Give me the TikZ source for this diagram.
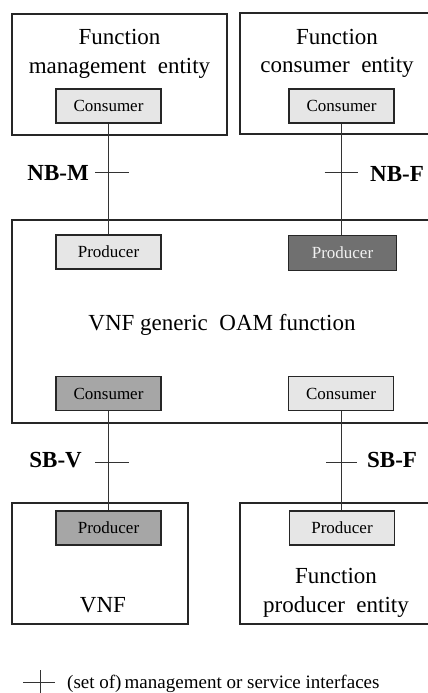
\documentclass[tikz,border=0pt]{standalone}
\usepackage{fontspec}
\setmainfont{Liberation Serif}
\definecolor{lightg}{HTML}{E6E6E6}
\definecolor{midg}{HTML}{A6A6A6}
\definecolor{darkg}{HTML}{707070}
\definecolor{paleTxt}{HTML}{F2F2F2}
\begin{document}
\begin{tikzpicture}[x=1pt,y=-1pt,
  bigbox/.style={draw=black!85, line width=1.2pt, rectangle, inner sep=0pt},
  smallbox/.style={draw=black!85, line width=1.5pt, rectangle, inner sep=0pt,
    minimum width=105pt, minimum height=34pt, font=\fontsize{17}{20}\selectfont},
  lightbox/.style={smallbox, fill=lightg},
  midbox/.style={smallbox, fill=midg},
  darkbox/.style={smallbox, fill=darkg, text=paleTxt},
  ent/.style={anchor=base, inner sep=0pt, font=\fontsize{23}{27}\selectfont},
  lbl/.style={inner sep=0pt, font=\fontsize{23}{27}\selectfont\bfseries},
  conn/.style={draw=black!80, line width=0.8pt},
  tick/.style={draw=black!80, line width=0.8pt}]
\useasboundingbox (0,0) rectangle (428,693);
\clip (0,0) rectangle (428,693);
\fill[white] (0,0) rectangle (428,693);

% outer boxes
\node[bigbox, minimum width=215pt, minimum height=121pt] (fme) at (119.5,74.5) {};
\node[bigbox, minimum width=200pt, minimum height=121pt] (fce) at (340,73.5) {};
\node[bigbox, minimum width=430pt, minimum height=203pt] (oam) at (227,321.5) {};
\node[bigbox, minimum width=176pt, minimum height=121pt] (vnf) at (100,563.5) {};
\node[bigbox, minimum width=200pt, minimum height=121pt] (fpe) at (340,563.5) {};

% entity texts
\node[ent] (fmeA) at (119.5,45) {Function};
\node[ent] (fmeB) at (119.5,74) {management~~entity};
\node[ent] (fceA) at (337,45) {Function};
\node[ent] (fceB) at (337,73) {consumer~~entity};
\node[ent] (oamT) at (222,330) {VNF~generic~~OAM~function};
\node[ent] (vnfT) at (103,612) {VNF};
\node[ent] (fpeA) at (336,583) {Function};
\node[ent] (fpeB) at (336,612) {producer~~entity};

% small boxes
\node[lightbox] (c1) at (108.5,106) {Consumer};
\node[lightbox] (c2) at (341.5,106) {Consumer};
\node[lightbox] (p1) at (108.5,252) {Producer};
\node[darkbox, minimum width=108pt, minimum height=35pt] (p2) at (342.5,253) {Producer};
\node[midbox] (c3) at (108.5,393.5) {Consumer};
\node[lightbox] (c4) at (341,393.5) {Consumer};
\node[midbox] (p3) at (108.5,528) {Producer};
\node[lightbox] (p4) at (342,528) {Producer};

% connectors
\draw[conn] (c1.south) -- (p1.north);
\draw[conn] (c2.south) -- (c2.south |- p2.north);
\draw[conn] (c3.south) -- (p3.north);
\draw[conn] (c4.south) -- (c4.south |- p4.north);

% interface ticks
\coordinate (tNBM) at (109,172);
\coordinate (tNBF) at (341.5,172);
\coordinate (tSBV) at (109,462);
\coordinate (tSBF) at (341,462);
\draw[tick] ([xshift=-14pt]tNBM) -- ([xshift=20pt]tNBM);
\draw[tick] ([xshift=-17pt]tNBF) -- ([xshift=16pt]tNBF);
\draw[tick] ([xshift=-14pt]tSBV) -- ([xshift=20pt]tSBV);
\draw[tick] ([xshift=-15pt]tSBF) -- ([xshift=16pt]tSBF);

% interface labels
\node[lbl, anchor=base east] (nbm) at (89,180) {NB-M};
\node[lbl, anchor=base west] (nbf) at (370,181) {NB-F};
\node[lbl, anchor=base east] (sbv) at (82,467) {SB-V};
\node[lbl, anchor=base west] (sbf) at (367,467) {SB-F};

% legend
\coordinate (lg) at (40,682);
\draw[tick] ([xshift=-17pt]lg) -- ([xshift=15pt]lg);
\draw[tick] ([yshift=-12pt]lg) -- ([yshift=12pt]lg);
\node[anchor=base west, inner sep=0pt, font=\fontsize{19}{22}\selectfont] (leg) at (67,688) {(set of)\,management or service interfaces};
\end{tikzpicture}
\end{document}
